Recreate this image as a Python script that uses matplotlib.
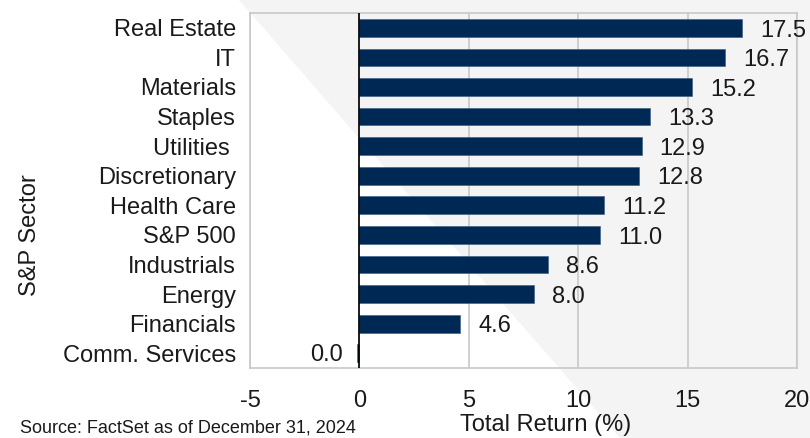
import matplotlib.pyplot as plt
from matplotlib.patches import Polygon

sectors = ['Real Estate', 'IT', 'Materials', 'Staples', 'Utilities ', 'Discretionary',
           'Health Care', 'S&P 500', 'Industrials', 'Energy', 'Financials', 'Comm. Services']
returns = [17.5, 16.7, 15.2, 13.3, 12.9, 12.8, 11.2, 11.0, 8.6, 8.0, 4.6, -0.12]
value_labels = ['17.5', '16.7', '15.2', '13.3', '12.9', '12.8', '11.2', '11.0', '8.6', '8.0', '4.6', '0.0']
xticks = [-5, 0, 5, 10, 15, 20]

plt.rcParams['font.family'] = ['Liberation Sans', 'DejaVu Sans']
txt = '#1a1a1a'

fig = plt.figure(figsize=(8.1, 4.38), dpi=100)
fig.patch.set_facecolor('white')

# background axes holding the diagonal grey band
bg = fig.add_axes([0, 0, 1, 1], zorder=-10)
bg.set_xlim(0, 1)
bg.set_ylim(0, 1)
bg.axis('off')
bg.add_patch(Polygon([(239 / 810, 1), (1, 1), (1, 0), (620 / 810, 0)], closed=True,
                     facecolor='#f4f4f4', edgecolor='none'))

ax = fig.add_axes([250 / 810, 1 - 368 / 438, (797 - 250) / 810, (368 - 13) / 438], zorder=1)
ax.set_facecolor('none')

y = list(range(len(sectors)))
ax.barh(y, returns, height=0.6, color='#002855', edgecolor='#355a80', linewidth=0.4, zorder=3)

for yi, v, lab in zip(y, returns, value_labels):
    if v >= 0:
        ax.annotate(lab, (v, yi), xytext=(13, -2), textcoords='offset points',
                    ha='left', va='center', fontsize=17, color=txt)
    else:
        ax.annotate(lab, (v, yi), xytext=(-10, -1), textcoords='offset points',
                    ha='right', va='center', fontsize=17, color=txt)

ax.set_ylim(len(sectors) - 0.5, -0.5)
ax.set_yticks(y)
ax.set_yticklabels(sectors, fontsize=17, color=txt)
ax.set_xlim(-5, 20)
ax.set_xticks(xticks)
ax.set_xticklabels([str(t) for t in xticks], fontsize=17, color=txt)
ax.tick_params(length=0)
ax.tick_params(axis='y', pad=10)
ax.tick_params(axis='x', pad=16)

ax.grid(axis='x', color='#c8c8c8', linewidth=1.2, zorder=1)
ax.axvline(0, color='black', linewidth=1.2, zorder=4)
for s in ax.spines.values():
    s.set_color('#c8c8c8')
    s.set_linewidth(1.2)

ax.set_xlabel('Total Return (%)', fontsize=17, color=txt)
ax.xaxis.set_label_coords(0.54, -0.13)
fig.text(30 / 810, 1 - 235 / 438, 'S&P Sector', rotation=90, ha='center', va='center',
         fontsize=17, color=txt)

fig.text(20 / 810, 0.004, 'Source: FactSet as of December 31, 2024',
         ha='left', va='bottom', fontsize=13, color=txt)

fig.savefig('out.png', dpi=100)
